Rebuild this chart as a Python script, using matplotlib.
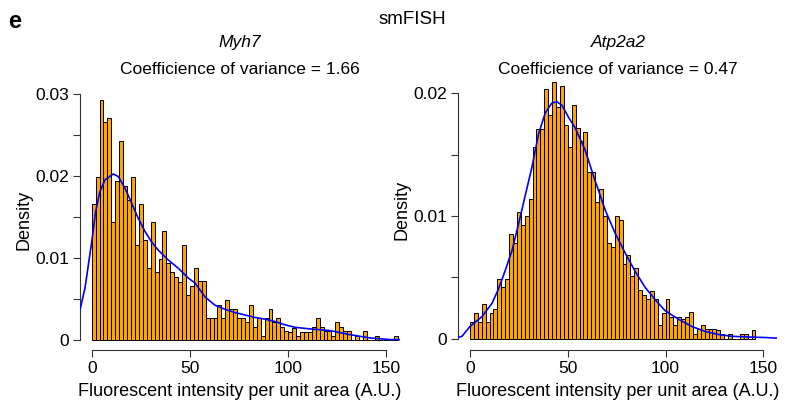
import numpy as np
import matplotlib
matplotlib.use("Agg")
import matplotlib.pyplot as plt

plt.rcParams['font.family'] = ['Liberation Sans', 'DejaVu Sans']

# ---------------- data ----------------
bin_width = 2

myh7_density = [0.0166, 0.0199, 0.0293, 0.0266, 0.0271, 0.0144, 0.0194, 0.0243, 0.0188, 0.0171,
                0.0199, 0.0116, 0.0166, 0.0122, 0.0088, 0.0144, 0.0083, 0.0099, 0.0133, 0.0094,
                0.0083, 0.0077, 0.0071, 0.0116, 0.0055, 0.0066, 0.0088, 0.0072, 0.0072, 0.0027,
                0.0027, 0.0027, 0.0043, 0.0027, 0.0049, 0.0038, 0.0038, 0.0027, 0.0027, 0.0022,
                0.0043, 0.0016, 0.0027, 0.0005, 0.0027, 0.0038, 0.0022, 0.0027, 0.0016, 0.0011,
                0.0010, 0.0015, 0.0005, 0.0010, 0.0010, 0.0010, 0.0016, 0.0027, 0.0016, 0.0011,
                0.0011, 0.0005, 0.0022, 0.0016, 0.0011, 0.0011, 0.0, 0.0005, 0.0, 0.0011,
                0.0, 0.0, 0.0005, 0.0, 0.0, 0.0, 0.0, 0.0005]

atp2a2_density = [0.0014, 0.0021, 0.0014, 0.0028, 0.0014, 0.0021, 0.0024, 0.0049, 0.0042, 0.0049,
                  0.0085, 0.0078, 0.0103, 0.0093, 0.0100, 0.0114, 0.0156, 0.0171, 0.0171, 0.0203,
                  0.0182, 0.0209, 0.0189, 0.0206, 0.0174, 0.0156, 0.0190, 0.0172, 0.0161, 0.0168,
                  0.0136, 0.0136, 0.0111, 0.0122, 0.0100, 0.0078, 0.0075, 0.0100, 0.0097, 0.0061,
                  0.0068, 0.0051, 0.0058, 0.0040, 0.0036, 0.0032, 0.0039, 0.0032, 0.0011, 0.0021,
                  0.0032, 0.0018, 0.0011, 0.0018, 0.0016, 0.0018, 0.0022, 0.0004, 0.0008, 0.0011,
                  0.0008, 0.0008, 0.0008, 0.0007, 0.0004, 0.0, 0.0004, 0.0, 0.0, 0.0004,
                  0.0004, 0.0, 0.0007]

myh7_kde_x = [-6.0, -3.4, 0.0, 2.0, 4.1, 6.8, 11.0, 13.5, 16.9, 20.4, 23.7, 27.1, 30.5, 33.9,
              39.0, 44.1, 49.2, 52.6, 57.7, 62.7, 67.8, 72.9, 78.0, 83.1, 88.2, 93.3, 98.4,
              103.5, 111.1, 121.3, 131.5, 141.6, 151.8, 157.0]
myh7_kde_y = [0.0037, 0.0064, 0.0120, 0.0157, 0.0181, 0.0196, 0.0203, 0.0200, 0.0186, 0.0167,
              0.0149, 0.0133, 0.0120, 0.0110, 0.0098, 0.0088, 0.0076, 0.0070, 0.0053, 0.0043,
              0.0038, 0.0034, 0.0031, 0.0028, 0.0026, 0.0023, 0.0019, 0.0016, 0.0014, 0.0012,
              0.0007, 0.0003, 0.0001, 0.0001]

atp2a2_kde_x = [-6.1, -4.1, 0.0, 6.1, 11.3, 14.7, 18.1, 21.5, 24.9, 28.3, 31.7, 35.1, 38.5,
                41.9, 44.5, 47.1, 50.5, 53.7, 58.8, 63.9, 69.1, 74.2, 79.3, 84.4, 89.5, 94.6,
                99.7, 106.5, 113.4, 120.2, 127.0, 133.9, 140.7, 150.9, 157.0]
atp2a2_kde_y = [0.0001, 0.0002, 0.0010, 0.0018, 0.0029, 0.0041, 0.0056, 0.0072, 0.0094, 0.0117,
                0.0140, 0.0167, 0.0184, 0.0192, 0.0193, 0.0190, 0.0180, 0.0172, 0.0154, 0.0129,
                0.0105, 0.0086, 0.0070, 0.0055, 0.0042, 0.0032, 0.0023, 0.0016, 0.0010, 0.0006,
                0.00035, 0.0002, 0.00015, 0.0001, 0.00005]

x_ticks = [0, 50, 100, 150]
myh7_yticks = [0, 0.005, 0.01, 0.015, 0.02, 0.025, 0.03]
myh7_yticklabels = ["0", "", "0.01", "", "0.02", "", "0.03"]
atp2a2_yticks = [0, 0.005, 0.01, 0.015, 0.02]
atp2a2_yticklabels = ["0", "", "0.01", "", "0.02"]

genes = ["Myh7", "Atp2a2"]
cv_values = ["1.66", "0.47"]

# ---------------- figure ----------------
W, H = 791, 412
fig = plt.figure(figsize=(W / 100, H / 100), dpi=100)
FS = 12.5


def px_axes(l, t, r, b):
    return fig.add_axes([l / W, 1 - b / H, (r - l) / W, (b - t) / H])


def style(ax, ylim, xlim, yticks, ylabels, ymax):
    ax.set_xlim(*xlim)
    ax.set_ylim(*ylim)
    for s in ("top", "right"):
        ax.spines[s].set_visible(False)
    ax.spines["left"].set_bounds(0, ymax)
    ax.spines["bottom"].set_bounds(0, 150)
    for s in ("left", "bottom"):
        ax.spines[s].set_linewidth(0.8)
        ax.spines[s].set_color("#333333")
    ax.set_xticks(x_ticks)
    ax.set_xticklabels([str(t) for t in x_ticks])
    ax.set_yticks(yticks)
    ax.set_yticklabels(ylabels)
    ax.tick_params(axis="both", direction="out", length=5, width=0.8,
                   color="#333333", labelsize=FS, pad=3)
    ax.set_xlabel("Fluorescent intensity per unit area (A.U.)", fontsize=FS + 0.5, labelpad=5)
    ax.set_ylabel("Density", fontsize=FS + 0.5, labelpad=1.5)


def draw(ax, dens, kx, ky):
    edges = np.arange(len(dens)) * bin_width
    ax.bar(edges, dens, width=bin_width, align="edge", color="#FFA500",
           edgecolor="black", linewidth=0.7, zorder=2)
    ax.plot(kx, ky, color="#0000FF", linewidth=1.2, zorder=3, clip_on=True)


ax1 = px_axes(80, 90.4, 400, 350)
draw(ax1, myh7_density, myh7_kde_x, myh7_kde_y)
style(ax1, (-0.00117, 0.0305), (-5.95, 156.9), myh7_yticks, myh7_yticklabels, 0.03)

ax2 = px_axes(458, 70.2, 777, 349.8)
draw(ax2, atp2a2_density, atp2a2_kde_x, atp2a2_kde_y)
style(ax2, (-0.0009, 0.02187), (-6.14, 157.0), atp2a2_yticks, atp2a2_yticklabels, 0.02)

# ---------------- titles ----------------
fig.text(8 / W, 1 - 22 / H, "e", fontsize=17, fontweight="bold", va="center", ha="left")
fig.text(412 / W, 1 - 20 / H, "smFISH", fontsize=FS + 1, va="center", ha="center")
fig.text(240 / W, 1 - 43 / H, genes[0], fontsize=FS, style="italic", va="center", ha="center")
fig.text(618 / W, 1 - 43 / H, genes[1], fontsize=FS, style="italic", va="center", ha="center")
fig.text(240 / W, 1 - 70 / H, "Coefficience of variance = " + cv_values[0], fontsize=FS,
         va="center", ha="center")
fig.text(618 / W, 1 - 70 / H, "Coefficience of variance = " + cv_values[1], fontsize=FS,
         va="center", ha="center")

fig.savefig("out.png", dpi=100)
